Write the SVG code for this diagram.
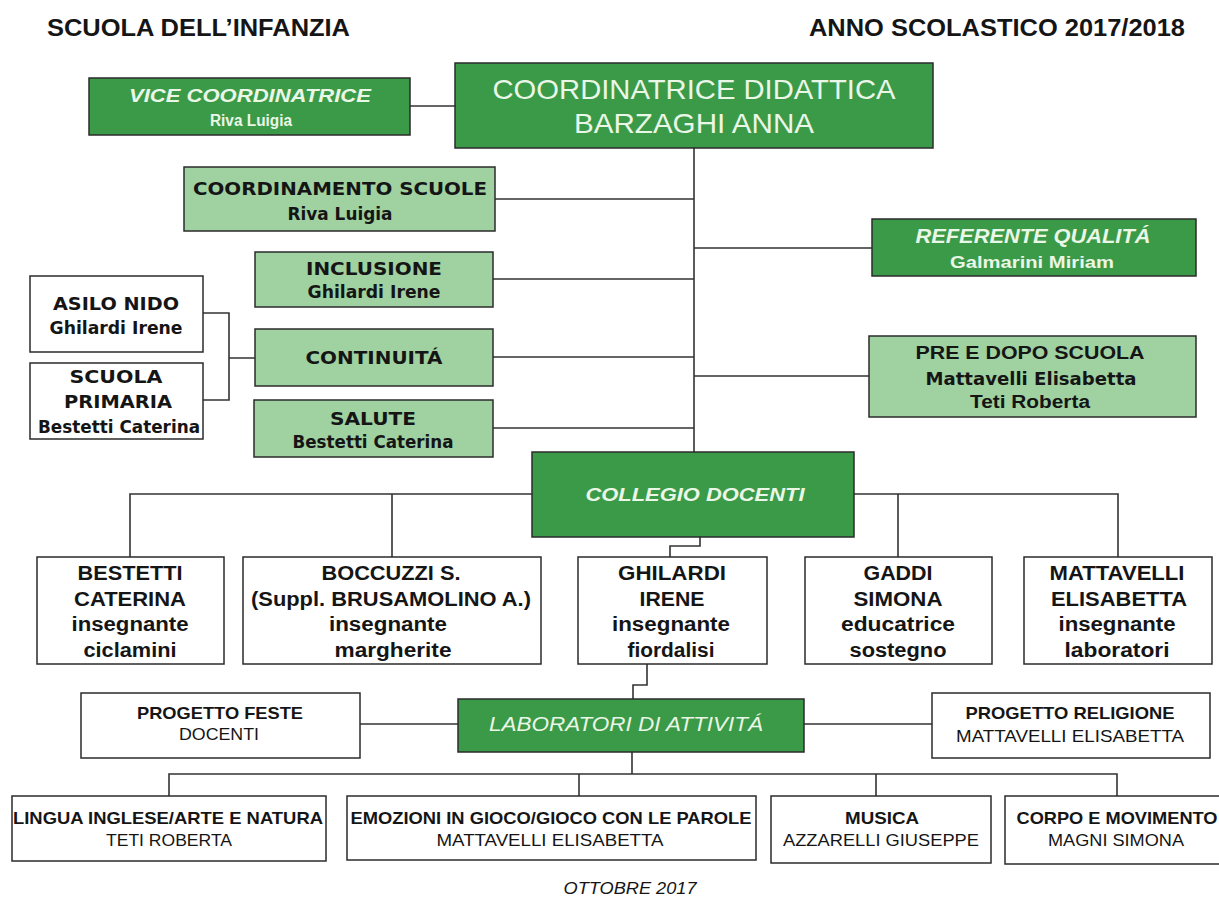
<svg xmlns="http://www.w3.org/2000/svg" width="1219" height="901" viewBox="0 0 1219 901">
<style>
.dk{fill:#3b9a48;stroke:#2b2b2b;stroke-width:1.5}
.lt{fill:#9fd1a1;stroke:#2b2b2b;stroke-width:1.5}
.wh{fill:#ffffff;stroke:#2b2b2b;stroke-width:1.5}
.cn path{stroke:#333333;stroke-width:1.6;fill:none}
text{font-family:"Liberation Sans",Arial,sans-serif;text-anchor:middle;fill:#151515}
.hd{font-size:24px;font-weight:bold;text-anchor:start}
.lg{fill:#eaf6e6}
.it{font-style:italic}
.b{font-weight:bold}
.tb{font-family:"DejaVu Sans",sans-serif;font-weight:bold;font-size:17px}
.t20{font-size:20px;font-weight:bold}
.s17{font-size:17px}
</style>

<g id="title">
<text class="hd" x="47" y="36" textLength="303" lengthAdjust="spacingAndGlyphs">SCUOLA DELL’INFANZIA</text>
<text class="hd" x="809" y="36" textLength="376" lengthAdjust="spacingAndGlyphs">ANNO SCOLASTICO 2017/2018</text>
</g>

<g class="cn" id="connectors">
<path d="M410 106H455"/>
<path d="M694 148V452"/>
<path d="M495 199H694M493 279H694M493 357H694M493 428H694"/>
<path d="M694 248H872M694 376H869"/>
<path d="M203 313H229V400H203M229 358H255"/>
<path d="M532 494H130V557M392 494V557"/>
<path d="M854 494H1118V557M898 494V557"/>
<path d="M700 537V546H670V557"/>
<path d="M647 664V685H633V699"/>
<path d="M632 752V774"/>
<path d="M169 796V774H1117V796M579 774V796M876 774V796"/>
<path d="M360 724H458M804 724H932"/>
</g>

<g id="vice">
<rect class="dk" x="89" y="78" width="321" height="57"/>
<text class="lg it b" x="250" y="102" font-size="19" textLength="242" lengthAdjust="spacingAndGlyphs">VICE COORDINATRICE</text>
<text class="lg b" x="251" y="126" font-size="16" textLength="82" lengthAdjust="spacingAndGlyphs">Riva Luigia</text>
</g>

<g id="coordinatrice">
<rect class="dk" x="455" y="63" width="478" height="85"/>
<text class="lg" x="694" y="99" font-size="28" textLength="403" lengthAdjust="spacingAndGlyphs">COORDINATRICE DIDATTICA</text>
<text class="lg" x="694" y="133" font-size="28" textLength="240" lengthAdjust="spacingAndGlyphs">BARZAGHI ANNA</text>
</g>

<g id="coordinamento">
<rect class="lt" x="184" y="167" width="311" height="64"/>
<text class="tb" x="340" y="195" textLength="294" lengthAdjust="spacingAndGlyphs">COORDINAMENTO SCUOLE</text>
<text class="tb" x="340" y="220" textLength="105" lengthAdjust="spacingAndGlyphs">Riva Luigia</text>
</g>

<g id="inclusione">
<rect class="lt" x="255" y="252" width="238" height="55"/>
<text class="tb" x="374" y="275" textLength="136" lengthAdjust="spacingAndGlyphs">INCLUSIONE</text>
<text class="tb" x="374" y="298" textLength="133" lengthAdjust="spacingAndGlyphs">Ghilardi Irene</text>
</g>

<g id="asilo">
<rect class="wh" x="30" y="276" width="173" height="76"/>
<text class="tb" x="116" y="310" textLength="126" lengthAdjust="spacingAndGlyphs">ASILO NIDO</text>
<text class="tb" x="116" y="334" textLength="133" lengthAdjust="spacingAndGlyphs">Ghilardi Irene</text>
</g>

<g id="primaria">
<rect class="wh" x="30" y="363" width="173" height="76"/>
<text class="tb" x="116" y="383" textLength="93" lengthAdjust="spacingAndGlyphs">SCUOLA</text>
<text class="tb" x="118" y="408" textLength="108" lengthAdjust="spacingAndGlyphs">PRIMARIA</text>
<text class="tb" x="119" y="433" textLength="162" lengthAdjust="spacingAndGlyphs">Bestetti Caterina</text>
</g>

<g id="continuita">
<rect class="lt" x="255" y="329" width="238" height="57"/>
<text class="tb" x="374" y="364" textLength="137" lengthAdjust="spacingAndGlyphs">CONTINUITÁ</text>
</g>

<g id="salute">
<rect class="lt" x="254" y="400" width="239" height="57"/>
<text class="tb" x="373" y="425" textLength="86" lengthAdjust="spacingAndGlyphs">SALUTE</text>
<text class="tb" x="373" y="448" textLength="161" lengthAdjust="spacingAndGlyphs">Bestetti Caterina</text>
</g>

<g id="referente">
<rect class="dk" x="872" y="219" width="324" height="57"/>
<text class="lg it b" x="1033" y="243" font-size="20" textLength="235" lengthAdjust="spacingAndGlyphs">REFERENTE QUALITÁ</text>
<text class="lg b" x="1032" y="268" font-size="17" textLength="164" lengthAdjust="spacingAndGlyphs">Galmarini Miriam</text>
</g>

<g id="predopo">
<rect class="lt" x="869" y="336" width="327" height="81"/>
<text class="b" x="1030" y="359" font-size="18" textLength="229" lengthAdjust="spacingAndGlyphs">PRE E DOPO SCUOLA</text>
<text class="tb" x="1031" y="385" textLength="211" lengthAdjust="spacingAndGlyphs">Mattavelli Elisabetta</text>
<text class="b" x="1030" y="408" font-size="18" textLength="120" lengthAdjust="spacingAndGlyphs">Teti Roberta</text>
</g>

<g id="collegio">
<rect class="dk" x="532" y="452" width="322" height="85"/>
<text class="lg it b" x="695" y="501" font-size="19" textLength="219" lengthAdjust="spacingAndGlyphs">COLLEGIO DOCENTI</text>
</g>

<g id="bestetti">
<rect class="wh" x="37" y="557" width="187" height="107"/>
<text class="t20" x="130" y="580" textLength="105" lengthAdjust="spacingAndGlyphs">BESTETTI</text>
<text class="t20" x="130" y="606" textLength="112" lengthAdjust="spacingAndGlyphs">CATERINA</text>
<text class="t20" x="130" y="631" textLength="117" lengthAdjust="spacingAndGlyphs">insegnante</text>
<text class="t20" x="130" y="657" textLength="93" lengthAdjust="spacingAndGlyphs">ciclamini</text>
</g>

<g id="boccuzzi">
<rect class="wh" x="243" y="557" width="298" height="107"/>
<text class="t20" x="391" y="580" textLength="139" lengthAdjust="spacingAndGlyphs">BOCCUZZI S.</text>
<text class="t20" x="391" y="606" textLength="280" lengthAdjust="spacingAndGlyphs">(Suppl. BRUSAMOLINO A.)</text>
<text class="t20" x="388" y="631" textLength="118" lengthAdjust="spacingAndGlyphs">insegnante</text>
<text class="t20" x="393" y="657" textLength="117" lengthAdjust="spacingAndGlyphs">margherite</text>
</g>

<g id="ghilardi">
<rect class="wh" x="578" y="557" width="189" height="107"/>
<text class="t20" x="672" y="580" textLength="108" lengthAdjust="spacingAndGlyphs">GHILARDI</text>
<text class="t20" x="672" y="606" textLength="65" lengthAdjust="spacingAndGlyphs">IRENE</text>
<text class="t20" x="671" y="631" textLength="118" lengthAdjust="spacingAndGlyphs">insegnante</text>
<text class="t20" x="671" y="657" textLength="87" lengthAdjust="spacingAndGlyphs">fiordalisi</text>
</g>

<g id="gaddi">
<rect class="wh" x="805" y="557" width="187" height="107"/>
<text class="t20" x="898" y="580" textLength="69" lengthAdjust="spacingAndGlyphs">GADDI</text>
<text class="t20" x="898" y="606" textLength="89" lengthAdjust="spacingAndGlyphs">SIMONA</text>
<text class="t20" x="898" y="631" textLength="114" lengthAdjust="spacingAndGlyphs">educatrice</text>
<text class="t20" x="898" y="657" textLength="97" lengthAdjust="spacingAndGlyphs">sostegno</text>
</g>

<g id="mattavelli">
<rect class="wh" x="1024" y="557" width="188" height="107"/>
<text class="t20" x="1117" y="580" textLength="135" lengthAdjust="spacingAndGlyphs">MATTAVELLI</text>
<text class="t20" x="1119" y="606" textLength="136" lengthAdjust="spacingAndGlyphs">ELISABETTA</text>
<text class="t20" x="1117" y="631" textLength="117" lengthAdjust="spacingAndGlyphs">insegnante</text>
<text class="t20" x="1117" y="657" textLength="105" lengthAdjust="spacingAndGlyphs">laboratori</text>
</g>

<g id="feste">
<rect class="wh" x="81" y="693" width="279" height="65"/>
<text class="b s17" x="220" y="719" textLength="166" lengthAdjust="spacingAndGlyphs">PROGETTO FESTE</text>
<text class="s17" x="219" y="740" textLength="80" lengthAdjust="spacingAndGlyphs">DOCENTI</text>
</g>

<g id="laboratori">
<rect class="dk" x="458" y="699" width="346" height="53"/>
<text class="lg it" x="626" y="731" font-size="20" textLength="274" lengthAdjust="spacingAndGlyphs">LABORATORI DI ATTIVITÁ</text>
</g>

<g id="religione">
<rect class="wh" x="932" y="693" width="278" height="65"/>
<text class="b s17" x="1070" y="719" textLength="209" lengthAdjust="spacingAndGlyphs">PROGETTO RELIGIONE</text>
<text class="s17" x="1070" y="742" textLength="228" lengthAdjust="spacingAndGlyphs">MATTAVELLI  ELISABETTA</text>
</g>

<g id="lingua">
<rect class="wh" x="12" y="796" width="314" height="65"/>
<text class="b s17" x="168" y="824" textLength="310" lengthAdjust="spacingAndGlyphs">LINGUA INGLESE/ARTE E NATURA</text>
<text class="s17" x="169" y="846" textLength="126" lengthAdjust="spacingAndGlyphs">TETI ROBERTA</text>
</g>

<g id="emozioni">
<rect class="wh" x="347" y="796" width="409" height="64"/>
<text class="b s17" x="551" y="824" textLength="401" lengthAdjust="spacingAndGlyphs">EMOZIONI IN GIOCO/GIOCO CON LE PAROLE</text>
<text class="s17" x="550" y="846" textLength="227" lengthAdjust="spacingAndGlyphs">MATTAVELLI  ELISABETTA</text>
</g>

<g id="musica">
<rect class="wh" x="771" y="796" width="220" height="67"/>
<text class="b s17" x="882" y="824" textLength="74" lengthAdjust="spacingAndGlyphs">MUSICA</text>
<text class="s17" x="881" y="846" textLength="196" lengthAdjust="spacingAndGlyphs">AZZARELLI  GIUSEPPE</text>
</g>

<g id="corpo">
<rect class="wh" x="1005" y="796" width="222" height="68"/>
<text class="b s17" x="1117" y="824" textLength="201" lengthAdjust="spacingAndGlyphs">CORPO E MOVIMENTO</text>
<text class="s17" x="1116" y="846" textLength="136" lengthAdjust="spacingAndGlyphs">MAGNI SIMONA</text>
</g>

<g id="footer">
<text class="it" x="630" y="894" font-size="17" textLength="133" lengthAdjust="spacingAndGlyphs">OTTOBRE  2017</text>
</g>
</svg>
